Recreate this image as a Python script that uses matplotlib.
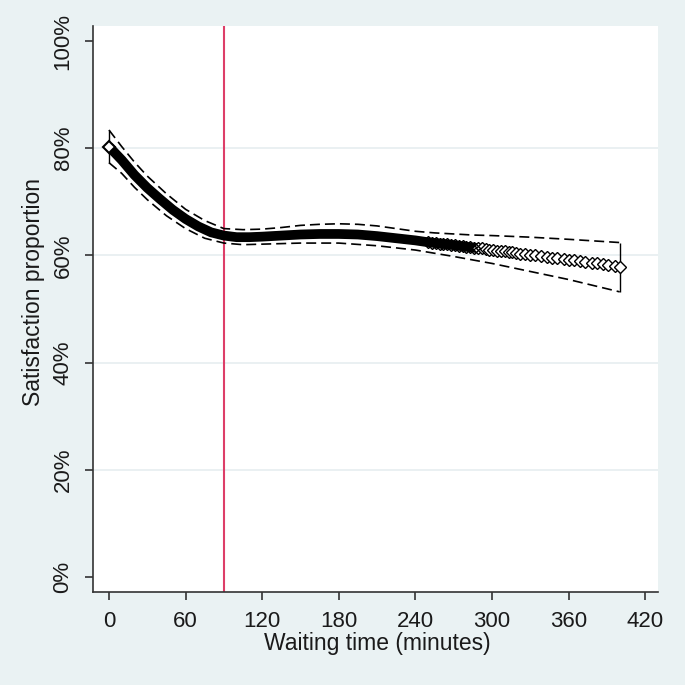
import matplotlib
matplotlib.use("Agg")
import matplotlib.pyplot as plt
import numpy as np

plt.rcParams['font.family'] = ['Liberation Sans', 'DejaVu Sans']

# Fitted curve (dense region, drawn as solid band of overlapping markers)
fit_x = [0, 10, 20, 30, 40, 50, 60, 70, 80, 90, 100, 110, 120, 135, 150, 165,
         180, 195, 210, 225, 240, 250, 265, 280, 290]
fit_y = [80.3, 77.8, 75.0, 72.6, 70.5, 68.5, 66.8, 65.4, 64.3, 63.7, 63.4, 63.4,
         63.5, 63.7, 63.9, 64.0, 64.0, 63.9, 63.6, 63.2, 62.8, 62.45, 62.05,
         61.6, 61.3]

# Individual fitted points in the sparser tail (hollow diamonds)
mk_x = [250, 253, 256, 259, 262, 265, 268, 271, 274, 277, 280, 283, 286, 289,
        292, 295, 298, 301, 304, 307, 310, 313, 316, 319, 322, 326, 330, 334,
        338, 343, 347, 351, 356, 360, 364, 369, 373, 378, 382, 387, 391, 396, 400]
mk_y = [62.45, 62.4, 62.3, 62.2, 62.1, 62.05, 61.95, 61.85, 61.8, 61.7, 61.6,
        61.55, 61.45, 61.35, 61.3, 61.2, 61.1, 61.0, 60.9, 60.8, 60.75, 60.65,
        60.55, 60.45, 60.35, 60.25, 60.1, 60.0, 59.85, 59.7, 59.6, 59.45, 59.3,
        59.2, 59.05, 58.9, 58.75, 58.6, 58.5, 58.35, 58.2, 58.05, 57.9]

# Confidence interval bounds
ci_up_x = [0, 10, 20, 30, 45, 60, 75, 90, 105, 120, 135, 150, 165, 180, 195,
           210, 225, 240, 255, 270, 285, 300, 330, 360, 400]
ci_up_y = [83.4, 80.3, 77.4, 74.8, 71.5, 68.6, 66.5, 65.0, 64.8, 64.9, 65.2,
           65.6, 65.8, 65.9, 65.8, 65.5, 65.0, 64.5, 64.2, 64.0, 63.8, 63.7,
           63.4, 63.0, 62.4]
ci_lo_x = [0, 10, 20, 30, 45, 60, 75, 90, 105, 120, 150, 180, 210, 240, 270,
           300, 330, 360, 400]
ci_lo_y = [77.3, 75.3, 72.7, 70.4, 67.4, 65.0, 63.2, 62.3, 62.0, 62.1, 62.3,
           62.3, 61.8, 61.0, 59.8, 58.5, 57.0, 55.5, 53.2]

cutoff = 90
x_ticks = [0, 60, 120, 180, 240, 300, 360, 420]
y_ticks = [0, 20, 40, 60, 80, 100]
y_tick_labels = ['0%', '20%', '40%', '60%', '80%', '100%']

bg = '#EAF2F3'
fig = plt.figure(figsize=(6.85, 6.85), dpi=100, facecolor=bg)
ax = fig.add_axes([93/685, 1-592/685, (658-93)/685, (592-26)/685])
ax.set_facecolor('white')

ax.set_xlim(-12.5, 430)
ax.set_ylim(-2.8, 102.8)

for g in [20, 40, 60, 80]:
    ax.axhline(g, color='#E6EEF0', lw=1.2, zorder=0)

ax.axvline(cutoff, color='#DD3E68', lw=1.5, zorder=1)

dash = (0, (6, 3))
ax.plot(ci_up_x, ci_up_y, color='black', lw=1.2, ls=dash, zorder=3)
ax.plot(ci_lo_x, ci_lo_y, color='black', lw=1.2, ls=dash, zorder=3)
ax.vlines([ci_up_x[0], ci_up_x[-1]], [ci_lo_y[0], ci_lo_y[-1]],
          [ci_up_y[0], ci_up_y[-1]], color='black', lw=1.0, zorder=3)

ax.plot(fit_x, fit_y, color='black', lw=7.0, solid_capstyle='butt', zorder=4)
ax.plot(mk_x[13:], mk_y[13:], ls='none', marker='D', ms=6, mfc='white',
        mec='black', mew=1.0, zorder=5)
ax.plot(mk_x[:13], mk_y[:13], ls='none', marker='D', ms=6, mfc='none',
        mec='black', mew=1.0, zorder=5)
ax.plot([fit_x[0]], [fit_y[0]], ls='none', marker='D', ms=6, mfc='white',
        mec='black', mew=1.5, zorder=6)

for s in ['top', 'right']:
    ax.spines[s].set_visible(False)
for s in ['left', 'bottom']:
    ax.spines[s].set_color('#333333')
    ax.spines[s].set_linewidth(1.2)

ax.set_xticks(x_ticks)
ax.set_xticklabels([str(v) for v in x_ticks])
ax.set_yticks(y_ticks)
ax.set_yticklabels(y_tick_labels, rotation=90, va='center')
ax.tick_params(axis='both', direction='out', length=6, width=1.2,
               color='#333333', labelsize=16, pad=8, labelcolor='#1a1a1a')

ax.set_xlabel('Waiting time (minutes)', fontsize=16.5, color='#1a1a1a')
ax.set_ylabel('Satisfaction proportion', fontsize=16.5, color='#1a1a1a')
ax.xaxis.set_label_coords(0.503, -0.071)
ax.yaxis.set_label_coords(-0.085, 0.53)

fig.savefig('out.png', dpi=100, facecolor=bg)
